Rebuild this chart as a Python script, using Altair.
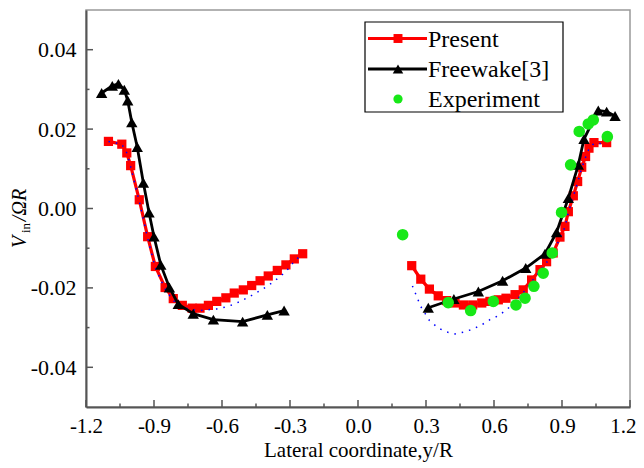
import altair as alt
import pandas as pd

# ---------------- data ----------------
present_left_x = [-1.101, -1.042, -1.020, -1.003, -0.965, -0.928, -0.894, -0.851, -0.815, -0.775,
                  -0.732, -0.697, -0.660, -0.623, -0.583, -0.546, -0.506, -0.469, -0.432, -0.396,
                  -0.356, -0.318, -0.281, -0.244]
present_left_y = [0.0169, 0.0162, 0.0140, 0.0108, 0.0022, -0.0071, -0.0146, -0.0199, -0.0227, -0.0244,
                  -0.0251, -0.0251, -0.0244, -0.0234, -0.0225, -0.0213, -0.0205, -0.0194, -0.0182, -0.0170,
                  -0.0156, -0.0142, -0.0127, -0.0114]

present_right_x = [0.237, 0.277, 0.315, 0.354, 0.391, 0.428, 0.465, 0.506, 0.546, 0.582, 0.619, 0.653,
                   0.693, 0.729, 0.766, 0.803, 0.832, 0.861, 0.891, 0.913, 0.928, 0.950, 0.969, 0.987,
                   1.004, 1.019, 1.041, 1.097]
present_right_y = [-0.0144, -0.0178, -0.0203, -0.0220, -0.0232, -0.0238, -0.0243, -0.0243, -0.0238, -0.0234,
                   -0.0230, -0.0226, -0.0217, -0.0205, -0.0180, -0.0154, -0.0134, -0.0112, -0.0072, -0.0045,
                   -0.0008, 0.0032, 0.0068, 0.0104, 0.0131, 0.0152, 0.0166, 0.0166]

freewake_left_x = [-1.131, -1.084, -1.057, -1.031, -1.016, -0.998, -0.974, -0.947, -0.922, -0.900,
                   -0.870, -0.832, -0.793, -0.727, -0.638, -0.509, -0.400, -0.326]
freewake_left_y = [0.0291, 0.0309, 0.0314, 0.0299, 0.0272, 0.0217, 0.0155, 0.0065, -0.0010, -0.0071,
                   -0.0142, -0.0199, -0.0241, -0.0265, -0.0280, -0.0285, -0.0268, -0.0257]

freewake_right_x = [0.310, 0.423, 0.531, 0.638, 0.740, 0.825, 0.876, 0.928, 0.972, 0.997, 1.060, 1.097, 1.134]
freewake_right_y = [-0.0250, -0.0228, -0.0209, -0.0182, -0.0150, -0.0114, -0.0060, 0.0026, 0.0110, 0.0175,
                    0.0247, 0.0244, 0.0233]

experiment_x = [0.197, 0.398, 0.497, 0.597, 0.697, 0.737, 0.776, 0.817, 0.857, 0.898, 0.938, 0.976,
                1.016, 1.038, 1.100]
experiment_y = [-0.0066, -0.0237, -0.0257, -0.0234, -0.0243, -0.0226, -0.0196, -0.0163, -0.0112, -0.0010,
                0.0110, 0.0194, 0.0213, 0.0223, 0.0181]

# unlabeled blue dotted curve
dotted_left_x = present_left_x
dotted_left_y = [0.0169, 0.0162, 0.0140, 0.0105, 0.0018, -0.0075, -0.0150, -0.0203, -0.0232, -0.0249,
                 -0.0255, -0.0257, -0.0255, -0.0253, -0.0248, -0.0241, -0.0230, -0.0219, -0.0207, -0.0194,
                 -0.0177, -0.0159, -0.0133, -0.0114]
dotted_right_x = [0.240, 0.277, 0.315, 0.354, 0.391, 0.428, 0.468, 0.506, 0.546, 0.582, 0.619, 0.656,
                  0.693, 0.729, 0.766, 0.803, 0.832, 0.861, 0.891, 0.913, 0.928, 0.950, 0.969, 0.987,
                  1.004, 1.019, 1.041, 1.097]
dotted_right_y = [-0.0195, -0.0247, -0.0282, -0.0301, -0.0311, -0.0316, -0.0311, -0.0304, -0.0293, -0.0280,
                  -0.0270, -0.0255, -0.0235, -0.0212, -0.0184, -0.0157, -0.0136, -0.0114, -0.0074, -0.0047,
                  -0.0010, 0.0030, 0.0066, 0.0102, 0.0129, 0.0150, 0.0164, 0.0164]

x_major = [-1.2, -0.9, -0.6, -0.3, 0.0, 0.3, 0.6, 0.9, 1.2]
x_minor = [-1.05, -0.75, -0.45, -0.15, 0.15, 0.45, 0.75, 1.05]
y_major = [-0.04, -0.02, 0.0, 0.02, 0.04]
y_minor = [-0.03, -0.01, 0.01, 0.03]

legend_labels = ["Present", "Freewake[3]", "Experiment"]
x_title = "Lateral coordinate,y/R"

# ---------------- build tables ----------------
def seg(xs, ys, name, s):
    return pd.DataFrame({"x": xs, "y": ys, "series": name, "seg": s, "idx": list(range(len(xs)))})

present = pd.concat([seg(present_left_x, present_left_y, "Present", "L"),
                     seg(present_right_x, present_right_y, "Present", "R")])
freewake = pd.concat([seg(freewake_left_x, freewake_left_y, "Freewake", "L"),
                      seg(freewake_right_x, freewake_right_y, "Freewake", "R")])
dotted = pd.concat([seg(dotted_left_x, dotted_left_y, "dotted", "L"),
                    seg(dotted_right_x, dotted_right_y, "dotted", "R")])
experiment = seg(experiment_x, experiment_y, "Experiment", "A")

W, H = 544, 397
FONT = "'Liberation Serif', 'Times New Roman', serif"
RED, BLACK, GREEN, BLUE = "#ff0000", "#000000", "#17e817", "#0000ff"
AXC = "#555555"

xs = alt.Scale(domain=[-1.2, 1.2], nice=False, zero=False)
ys = alt.Scale(domain=[-0.05, 0.05], nice=False, zero=False)

x_axis = alt.Axis(values=x_major, title=x_title, ticks=False, tickSize=0, grid=False,
                  labelExpr="(datum.value < -1e-9 ? '-' : '') + format(abs(datum.value), '.1f')",
                  labelAlign={"condition": {"test": "datum.value > 1.1", "value": "right"},
                              "value": "center"},
                  labelOffset={"condition": {"test": "datum.value > 1.1", "value": 6}, "value": 0},
                  domainColor=AXC, domainWidth=2, labelFont=FONT, labelFontSize=21,
                  labelColor="black", labelPadding=8, labelFlush=False, labelOverlap=False,
                  titleFont=FONT, titleFontSize=21, titleFontWeight="normal",
                  titleColor="black", titlePadding=3)
y_axis = alt.Axis(values=y_major, title=None, ticks=False, tickSize=0, grid=False,
                  labelExpr="(datum.value < -1e-9 ? '-' : '') + format(abs(datum.value), '.2f')",
                  domainColor=AXC, domainWidth=2, labelFont=FONT, labelFontSize=22,
                  labelColor="black", labelPadding=10, labelFlush=False, labelOverlap=False)

X = alt.X("x:Q", scale=xs, axis=x_axis)
Y = alt.Y("y:Q", scale=ys, axis=y_axis)

present_line = alt.Chart(present).mark_line(color=RED, strokeWidth=3.2).encode(
    x=X, y=Y, detail="seg:N", order="idx:Q")
present_pts = alt.Chart(present).mark_point(shape="square", filled=True, size=85,
                                            color=RED, opacity=1).encode(x=X, y=Y)
dotted_line = alt.Chart(dotted).mark_line(color=BLUE, strokeWidth=1.5,
                                          strokeDash=[1.5, 6]).encode(
    x=X, y=Y, detail="seg:N", order="idx:Q")
free_line = alt.Chart(freewake).mark_line(color=BLACK, strokeWidth=2.8).encode(
    x=X, y=Y, detail="seg:N", order="idx:Q")
free_pts = alt.Chart(freewake).mark_point(shape="triangle-up", filled=True, size=130,
                                          color=BLACK, opacity=1).encode(x=X, y=Y)
exp_pts = alt.Chart(experiment).mark_point(shape="circle", filled=True, size=135,
                                           color=GREEN, opacity=1).encode(x=X, y=Y)

# inward ticks
xt_major = alt.Chart(pd.DataFrame({"x": x_major})).mark_rule(color=AXC, strokeWidth=1.5).encode(
    x=X, y=alt.value(H), y2=alt.value(H - 7))
xt_minor = alt.Chart(pd.DataFrame({"x": x_minor})).mark_rule(color=AXC, strokeWidth=1.5).encode(
    x=X, y=alt.value(H), y2=alt.value(H - 3.5))
yt_major = alt.Chart(pd.DataFrame({"y": y_major})).mark_rule(color=AXC, strokeWidth=1.5).encode(
    y=Y, x=alt.value(0), x2=alt.value(7))
yt_minor = alt.Chart(pd.DataFrame({"y": y_minor})).mark_rule(color=AXC, strokeWidth=1.5).encode(
    y=Y, x=alt.value(0), x2=alt.value(3.5))

one = pd.DataFrame({"k": [0]})

# y-axis title: V_in /ΩR (rotated)
yt_V = alt.Chart(one).mark_text(angle=270, font=FONT, fontStyle="italic", fontSize=20,
                                align="center", baseline="alphabetic", color="black").encode(
    x=alt.value(-60), y=alt.value(232), text=alt.value("V"))
yt_in = alt.Chart(one).mark_text(angle=270, font=FONT, fontSize=13,
                                 align="center", baseline="alphabetic", color="black").encode(
    x=alt.value(-56.5), y=alt.value(218), text=alt.value("in"))
yt_rest = alt.Chart(one).mark_text(angle=270, font=FONT, fontStyle="italic", fontSize=20,
                                   align="center", baseline="alphabetic", color="black").encode(
    x=alt.value(-60), y=alt.value(195), text=alt.value("/ΩR"))

# legend (drawn manually)
LX0, LX1, LY0, LY1 = 279, 477, 12, 102
rows = [28.5, 59, 89]
leg_frame = alt.Chart(one).mark_rect(fill="white", stroke="black", strokeWidth=1.2).encode(
    x=alt.value(LX0), x2=alt.value(LX1), y=alt.value(LY0), y2=alt.value(LY1))
leg_layers = [leg_frame]
styles = [(RED, "square", 80, 3.2), (BLACK, "triangle-up", 110, 2.8), (GREEN, "circle", 85, 0)]
for lab, ry, (col, shp, sz, lw) in zip(legend_labels, rows, styles):
    if lw:
        leg_layers.append(alt.Chart(one).mark_rule(color=col, strokeWidth=lw).encode(
            x=alt.value(282), x2=alt.value(341), y=alt.value(ry)))
    leg_layers.append(alt.Chart(one).mark_point(shape=shp, filled=True, size=sz, color=col,
                                                opacity=1).encode(x=alt.value(312), y=alt.value(ry)))
    leg_layers.append(alt.Chart(one).mark_text(font=FONT, fontSize=24, align="left",
                                               baseline="middle", color="black").encode(
        x=alt.value(342), y=alt.value(ry + 1), text=alt.value(lab)))

chart = alt.layer(
    present_line, present_pts, dotted_line, free_line, free_pts, exp_pts,
    xt_major, xt_minor, yt_major, yt_minor,
    yt_V, yt_in, yt_rest,
    *leg_layers
).properties(
    width=W, height=H,
    autosize=alt.AutoSizeParams(type="none"),
    padding={"left": 78, "top": 2, "right": 6, "bottom": 55},
    background="white",
).configure_view(stroke="#999999", strokeWidth=1.5)

chart.save("out.html", embed_options={"renderer": "svg", "actions": False})
